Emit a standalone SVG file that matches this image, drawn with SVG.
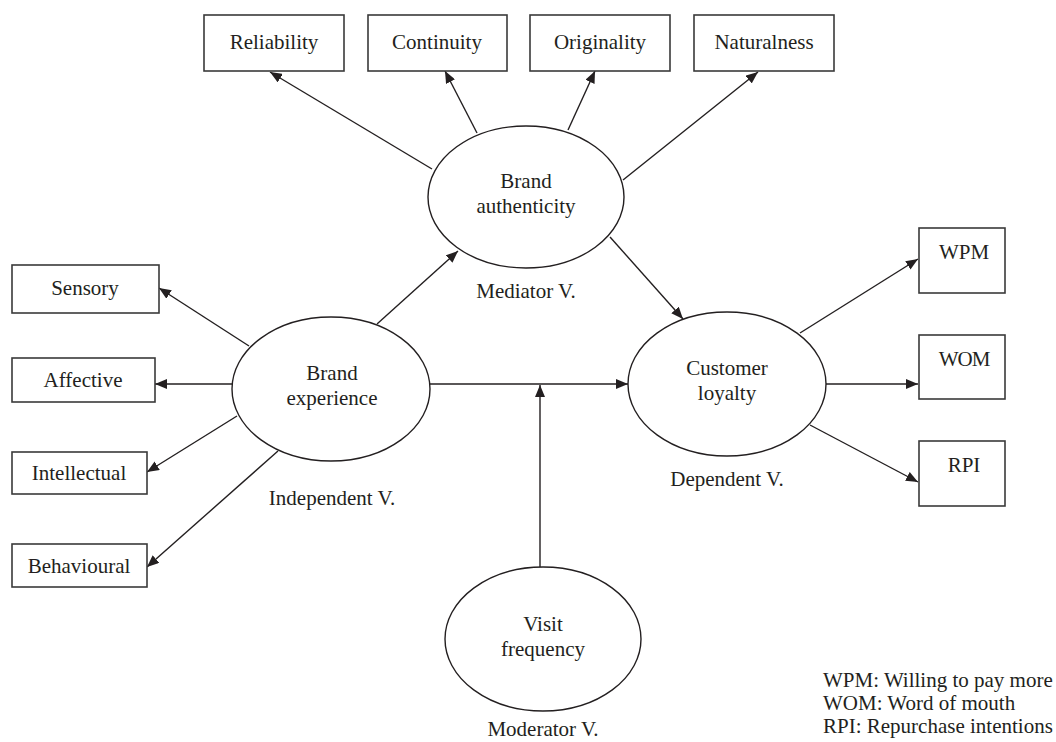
<svg xmlns="http://www.w3.org/2000/svg" width="1056" height="742" viewBox="0 0 1056 742">
<style>
  .box { fill: #ffffff; stroke: #3a3a3a; stroke-width: 1.6; }
  .ell { fill: #ffffff; stroke: #231f20; stroke-width: 1.4; }
  .t { font-family: "Liberation Serif", "Times New Roman", serif; font-size: 21px; fill: #231f20; text-anchor: middle; }
  .ts { font-family: "Liberation Serif", "Times New Roman", serif; font-size: 21px; fill: #231f20; }
  .c { stroke: #231f20; stroke-width: 1.4; fill: none; marker-end: url(#ah); }
</style>
<defs>
  <marker id="ah" viewBox="0 0 12 10" refX="12" refY="5" markerWidth="12" markerHeight="10" markerUnits="userSpaceOnUse" orient="auto">
    <path d="M0,0 L12,5 L0,10 z" fill="#231f20"/>
  </marker>
</defs>
<rect width="1056" height="742" fill="#ffffff"/>

<g id="connectors">
  <line class="c" x1="432" y1="169" x2="270" y2="72"/>
  <line class="c" x1="477" y1="133" x2="445" y2="71"/>
  <line class="c" x1="568" y1="130" x2="595" y2="71"/>
  <line class="c" x1="623" y1="180" x2="758" y2="72"/>
  <line class="c" x1="377" y1="324" x2="458" y2="251"/>
  <line class="c" x1="610" y1="237" x2="683" y2="319"/>
  <line class="c" x1="249" y1="346" x2="159" y2="288"/>
  <line class="c" x1="232" y1="384" x2="155" y2="384"/>
  <line class="c" x1="237" y1="416" x2="147" y2="472"/>
  <line class="c" x1="278" y1="451" x2="147" y2="567"/>
  <line class="c" x1="430" y1="384" x2="628" y2="384"/>
  <line class="c" x1="540" y1="567" x2="540" y2="385"/>
  <line class="c" x1="800" y1="333" x2="918" y2="259"/>
  <line class="c" x1="826" y1="384" x2="918" y2="384"/>
  <line class="c" x1="810" y1="425" x2="918" y2="482"/>
</g>

<g id="reliability">
  <rect class="box" x="204" y="15" width="140" height="56"/>
  <text class="t" x="274" y="49">Reliability</text>
</g>
<g id="continuity">
  <rect class="box" x="368" y="15" width="139" height="56"/>
  <text class="t" x="437" y="49">Continuity</text>
</g>
<g id="originality">
  <rect class="box" x="530" y="15" width="140" height="56"/>
  <text class="t" x="600" y="49">Originality</text>
</g>
<g id="naturalness">
  <rect class="box" x="694" y="15" width="140" height="56"/>
  <text class="t" x="764" y="49">Naturalness</text>
</g>

<g id="brand-authenticity">
  <ellipse class="ell" cx="526" cy="197" rx="98" ry="71"/>
  <text class="t" x="526" y="188">Brand</text>
  <text class="t" x="526" y="213">authenticity</text>
  <text class="t" x="526" y="298">Mediator V.</text>
</g>

<g id="brand-experience">
  <ellipse class="ell" cx="331" cy="389" rx="99" ry="72"/>
  <text class="t" x="332" y="380">Brand</text>
  <text class="t" x="332" y="405">experience</text>
  <text class="t" x="332" y="505">Independent V.</text>
</g>

<g id="customer-loyalty">
  <ellipse class="ell" cx="727" cy="384" rx="99" ry="72"/>
  <text class="t" x="727" y="375">Customer</text>
  <text class="t" x="727" y="400">loyalty</text>
  <text class="t" x="727" y="486">Dependent V.</text>
</g>

<g id="visit-frequency">
  <ellipse class="ell" cx="543" cy="639" rx="98" ry="72"/>
  <text class="t" x="543" y="631">Visit</text>
  <text class="t" x="543" y="656">frequency</text>
  <text class="t" x="543" y="736">Moderator V.</text>
</g>

<g id="sensory">
  <rect class="box" x="12" y="265" width="147" height="48"/>
  <text class="t" x="85" y="295">Sensory</text>
</g>
<g id="affective">
  <rect class="box" x="12" y="358" width="143" height="44"/>
  <text class="t" x="83" y="387">Affective</text>
</g>
<g id="intellectual">
  <rect class="box" x="12" y="452" width="135" height="42"/>
  <text class="t" x="79" y="480">Intellectual</text>
</g>
<g id="behavioural">
  <rect class="box" x="12" y="544" width="135" height="43"/>
  <text class="t" x="79" y="573">Behavioural</text>
</g>

<g id="wpm">
  <rect class="box" x="919" y="228" width="86" height="65"/>
  <text class="t" x="964" y="259">WPM</text>
</g>
<g id="wom">
  <rect class="box" x="919" y="335" width="86" height="64"/>
  <text class="t" x="964" y="366" letter-spacing="-1">WOM</text>
</g>
<g id="rpi">
  <rect class="box" x="919" y="441" width="86" height="65"/>
  <text class="t" x="964" y="472">RPI</text>
</g>

<g id="legend">
  <text class="ts" x="823" y="687">WPM: Willing to pay more</text>
  <text class="ts" x="823" y="710">WOM: Word of mouth</text>
  <text class="ts" x="823" y="733">RPI: Repurchase intentions</text>
</g>
</svg>
